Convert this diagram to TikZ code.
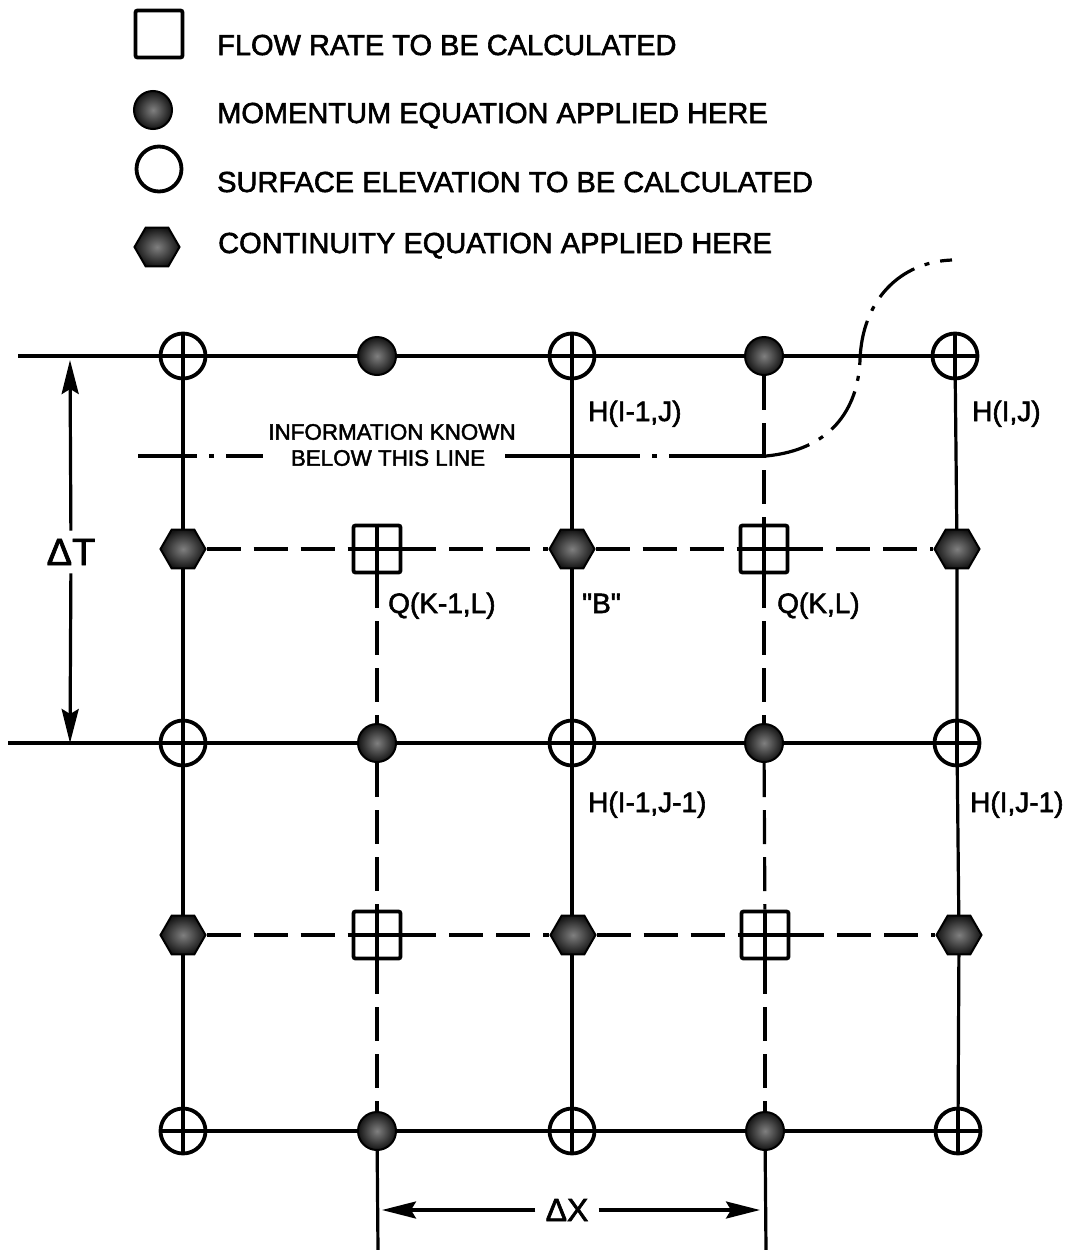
\documentclass[tikz,border=0pt]{standalone}
\usepackage{fontspec}
\newfontfamily\lett{Liberation Sans}[FakeBold=2]
\usetikzlibrary{arrows.meta,shapes.geometric,backgrounds}
\begin{document}
\begin{tikzpicture}[x=1pt,y=-1pt,
  gridln/.style={line width=3.2pt},
  dashln/.style={line width=3.2pt, dash pattern=on 34pt off 13pt},
  hnode/.style={circle, draw, line width=3.8pt, minimum size=45pt, inner sep=0pt},
  mnode/.style={circle, draw, line width=2pt, minimum size=38pt, inner sep=0pt, shading=radial, inner color=black!50, outer color=black!92},
  cnode/.style={regular polygon, regular polygon sides=6, draw, line width=2pt, minimum size=45pt, inner sep=0pt, shading=radial, inner color=black!50, outer color=black!92},
  qnode/.style={rectangle, draw, line width=3.8pt, minimum size=47pt, inner sep=0pt, rounded corners=2pt},
  lbl/.style={font=\lett\fontsize{28}{28}\selectfont, inner sep=0pt, anchor=base west},
  leg/.style={font=\lett\fontsize{29}{29}\selectfont, inner sep=0pt, anchor=base west},
  info/.style={font=\lett\fontsize{22.4}{22.4}\selectfont, inner sep=0pt},
  tip/.style={-{Stealth[length=34pt,width=17pt,inset=5pt]}},
]
\useasboundingbox (0,0) rectangle (1078,1250);

% ---------- legend ----------
\node[qnode] (lq) at (159,34) {};
\node[mnode] (lm) at (153,110) {};
\node[hnode] (lh) at (159,169) {};
\node[cnode] (lc) at (157,247) {};
\node[leg] (tq) at (217,55) {FLOW RATE TO BE CALCULATED};
\node[leg] (tm) at (217,123) {MOMENTUM EQUATION APPLIED HERE};
\node[leg] (th) at (217,192) {SURFACE ELEVATION TO BE CALCULATED};
\node[leg] (tc) at (218,253) {CONTINUITY EQUATION APPLIED HERE};

% ---------- grid nodes ----------
% row 1
\node[hnode] (h11) at (183,356) {};
\node[mnode] (m12) at (377,356) {};
\node[hnode] (h13) at (572,356) {};
\node[mnode] (m14) at (764,356) {};
\node[hnode] (h15) at (955,356) {};
% row 2
\node[cnode] (c21) at (183,549) {};
\node[qnode] (q22) at (377,549) {};
\node[cnode] (c23) at (572,549) {};
\node[qnode] (q24) at (764,549) {};
\node[cnode] (c25) at (957,549) {};
% row 3
\node[hnode] (h31) at (183,743) {};
\node[mnode] (m32) at (377,743) {};
\node[hnode] (h33) at (572,743) {};
\node[mnode] (m34) at (764,743) {};
\node[hnode] (h35) at (957,743) {};
% row 4
\node[cnode] (c41) at (183,935) {};
\node[qnode] (q42) at (377,935) {};
\node[cnode] (c43) at (573,935) {};
\node[qnode] (q44) at (765,935) {};
\node[cnode] (c45) at (959,935) {};
% row 5
\node[hnode] (h51) at (183,1131) {};
\node[mnode] (m52) at (377,1131) {};
\node[hnode] (h53) at (572,1131) {};
\node[mnode] (m54) at (765,1131) {};
\node[hnode] (h55) at (958,1131) {};

% free ends
\coordinate (eT) at (18,356);
\coordinate (eM) at (8,743);
\coordinate (bL) at (378,1250);
\coordinate (bR) at (766,1250);

% ---------- solid lines (behind the symbols) ----------
\begin{scope}[on background layer]
  \draw[gridln] (h11.center) -- (h51.center);
  \draw[gridln] (h13.center) -- (h53.center);
  \draw[gridln] (h15.center) -- (c25.center) -- (h35.center) -- (c45.center) -- (h55.center);
  \draw[gridln] (eT) -- (h15.center);
  \draw[gridln] (eM) -- (h35.center);
  \draw[gridln] (h51.center) -- (h55.center);
  \foreach \q in {q22,q24,q42,q44,h11,h13,h15,h31,h33,h35,h51,h53,h55}{
    \draw[gridln] (\q.north) -- (\q.south);
    \draw[gridln] (\q.west) -- (\q.east);
  }
\end{scope}

% ---------- dashed lines ----------
\draw[dashln] (c21) -- (q22);
\draw[dashln] (q22) -- (c23);
\draw[dashln] (c23) -- (q24);
\draw[dashln] (q24) -- (c25);
\draw[dashln] (c41) -- (q42);
\draw[dashln] (q42) -- (c43);
\draw[dashln] (c43) -- (q44);
\draw[dashln] (q44) -- (c45);
\draw[dashln] (q22) -- (m32);
\draw[dashln] (m32) -- (q42);
\draw[dashln] (q42) -- (m52);
\draw[dashln] (m14) -- (q24);
\draw[dashln] (q24) -- (m34);
\draw[dashln] (m34) -- (q44);
\draw[dashln] (q44) -- (m54);
\draw[gridln] (m52) -- (bL);
\draw[gridln] (m54) -- (bR);

% ---------- information line ----------
\coordinate (dL) at (138,456);
\coordinate (dL2) at (263,456);
\coordinate (dR) at (505,456);
\coordinate (dC) at (766,456);
\coordinate (dE) at (952,260);
\draw[gridln, dash pattern=on 59pt off 12pt on 5pt off 12pt] (dL) -- (dL2);
\draw[gridln, dash pattern=on 135pt off 12pt on 5pt off 12pt] (dR) -- (dC);
\draw[gridln, dash pattern=on 45pt off 11pt on 5pt off 11pt]
  (dC) .. controls (830,450) and (858,410) .. (860,360)
       .. controls (862,300) and (900,262) .. (dE);
\node[info] (inf1) at (392,432) {INFORMATION KNOWN};
\node[info] (inf2) at (388,458) {BELOW THIS LINE};

% ---------- labels ----------
\node[lbl] (lH1) at (588,421) {H(I-1,J)};
\node[lbl] (lH2) at (972,421) {H(I,J)};
\node[lbl] (lQ1) at (388,613) {Q(K-1,L)};
\node[lbl] (lB)  at (582,613) {"B"};
\node[lbl] (lQ2) at (777,613) {Q(K,L)};
\node[lbl] (lH3) at (588,812) {H(I-1,J-1)};
\node[lbl] (lH4) at (970,812) {H(I,J-1)};

% ---------- dimension arrows ----------
\node[font=\lett\fontsize{38}{38}\selectfont, inner xsep=2pt, inner ysep=8pt] (dt) at (71,552) {ΔT};
\coordinate (aT) at (70,360);
\coordinate (aB) at (70,743);
\draw[gridln, tip] (dt) -- (aT);
\draw[gridln, tip] (dt) -- (aB);

\node[font=\lett\fontsize{32}{32}\selectfont, inner xsep=10pt, inner ysep=4pt] (dx) at (567,1210) {ΔX};
\coordinate (aL) at (382,1210);
\coordinate (aR) at (760,1210);
\draw[gridln, tip] (dx) -- (aL);
\draw[gridln, tip] (dx) -- (aR);
\end{tikzpicture}
\end{document}
